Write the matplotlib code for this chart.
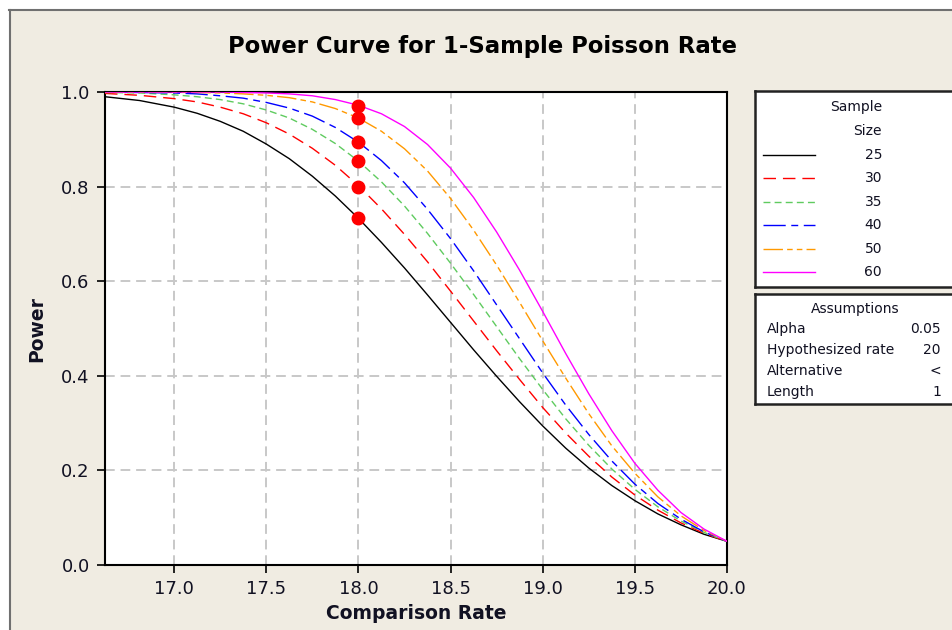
import matplotlib
matplotlib.use("Agg")
import matplotlib.pyplot as plt
from matplotlib.lines import Line2D
from matplotlib.patches import Rectangle

# values
comparison_rate = [16.625, 16.8125, 17.0, 17.125, 17.25, 17.375, 17.5, 17.625, 17.75,
                   17.875, 18.0, 18.125, 18.25, 18.375, 18.5, 18.625, 18.75, 18.875,
                   19.0, 19.125, 19.25, 19.375, 19.5, 19.625, 19.75, 19.875, 20.0]

sample_sizes = [25, 30, 35, 40, 50, 60]

power_25 = [0.990, 0.982, 0.968, 0.955, 0.938, 0.917, 0.890, 0.859, 0.822, 0.780, 0.733, 0.682, 0.628, 0.571,
            0.513, 0.455, 0.399, 0.345, 0.294, 0.247, 0.205, 0.168, 0.136, 0.108, 0.085, 0.065, 0.050]
power_30 = [0.997, 0.993, 0.986, 0.979, 0.968, 0.954, 0.935, 0.911, 0.881, 0.845, 0.802, 0.753, 0.699, 0.641,
            0.579, 0.516, 0.453, 0.392, 0.333, 0.279, 0.230, 0.186, 0.148, 0.116, 0.089, 0.067, 0.050]
power_35 = [0.999, 0.998, 0.994, 0.990, 0.984, 0.975, 0.962, 0.945, 0.921, 0.891, 0.854, 0.810, 0.759, 0.701,
            0.638, 0.572, 0.504, 0.436, 0.371, 0.309, 0.253, 0.203, 0.160, 0.123, 0.093, 0.069, 0.050]
power_40 = [1.000, 0.999, 0.998, 0.996, 0.992, 0.987, 0.978, 0.966, 0.949, 0.925, 0.894, 0.855, 0.808, 0.752,
            0.690, 0.622, 0.550, 0.478, 0.406, 0.338, 0.276, 0.220, 0.171, 0.130, 0.097, 0.070, 0.050]
power_50 = [1.000, 1.000, 1.000, 0.999, 0.998, 0.996, 0.993, 0.988, 0.979, 0.965, 0.945, 0.917, 0.880, 0.833,
            0.775, 0.708, 0.634, 0.555, 0.474, 0.395, 0.320, 0.252, 0.194, 0.144, 0.104, 0.073, 0.050]
power_60 = [1.000, 1.000, 1.000, 1.000, 1.000, 0.999, 0.998, 0.996, 0.992, 0.984, 0.972, 0.954, 0.927, 0.889,
            0.839, 0.777, 0.704, 0.623, 0.536, 0.447, 0.362, 0.284, 0.215, 0.158, 0.111, 0.076, 0.050]

# the highlighted points at comparison rate 18
dot_rate = [18.0, 18.0, 18.0, 18.0, 18.0, 18.0]
dot_power = [0.733, 0.800, 0.855, 0.895, 0.945, 0.971]

assumption_names = ["Alpha", "Hypothesized rate", "Alternative", "Length"]
assumption_values = ["0.05", "20", "<", "1"]

x_ticks = [17.0, 17.5, 18.0, 18.5, 19.0, 19.5, 20.0]
y_ticks = [0.0, 0.2, 0.4, 0.6, 0.8, 1.0]

curves = [power_25, power_30, power_35, power_40, power_50, power_60]
styles = [
    dict(color="black", linestyle="-"),
    dict(color="#FF0000", dashes=(9, 5)),
    dict(color="#5FCB5F", dashes=(5, 3)),
    dict(color="#0000FF", dashes=(16, 4, 5, 4)),
    dict(color="#FF9900", dashes=(14, 3, 4, 3, 4, 3)),
    dict(color="#FF00FF", linestyle="-"),
]

W, H = 952, 630
BG = "#F0ECE2"
TXT = "#111122"

plt.rcParams["font.family"] = ["DejaVu Sans"]

fig = plt.figure(figsize=(W / 100, H / 100), dpi=100)
fig.patch.set_facecolor("white")

# beige panel with the window frame on top and left
fig.patches.append(Rectangle((10 / W, 0), 1, (H - 10) / H, transform=fig.transFigure,
                             facecolor=BG, edgecolor="none", zorder=-10))
fig.lines.append(Line2D([9 / W, 1], [1 - 10 / H, 1 - 10 / H], transform=fig.transFigure,
                        color="#707070", lw=1.5))
fig.lines.append(Line2D([10 / W, 10 / W], [0, 1 - 10 / H], transform=fig.transFigure,
                        color="#707070", lw=1.5))

ax = fig.add_axes([105 / W, 1 - 565 / H, (727 - 105) / W, (565 - 92) / H])
ax.set_facecolor("white")

for n, p, st in zip(sample_sizes, curves, styles):
    ax.plot(comparison_rate, p, lw=1.0, label=str(n), zorder=3, **st)

ax.plot(dot_rate, dot_power, "o", color="#FF0000", markersize=9, zorder=5, clip_on=False)

ax.set_xlim(16.625, 20.0)
ax.set_ylim(0.0, 1.0)
ax.set_xticks(x_ticks)
ax.set_yticks(y_ticks)
ax.set_xticklabels([f"{v:.1f}" for v in x_ticks])
ax.set_yticklabels([f"{v:.1f}" for v in y_ticks])
ax.tick_params(direction="out", length=6, width=1.2, labelsize=13, pad=5,
               colors="black", labelcolor=TXT)
ax.grid(True, color="#C8C8C8", linewidth=1.4, linestyle=(0, (5, 3)), zorder=1)
ax.set_axisbelow(True)
for s in ax.spines.values():
    s.set_linewidth(1.5)
    s.set_color("black")

ax.set_xlabel("Comparison Rate", fontsize=13.5, fontweight="bold", color=TXT, labelpad=4)
ax.set_ylabel("Power", fontsize=13.5, fontweight="bold", color=TXT, labelpad=11)
fig.text(483 / W, 1 - 47 / H, "Power Curve for 1-Sample Poisson Rate", ha="center", va="center",
         fontsize=16.4, fontweight="bold", color="black")

# legend box (sample size), drawn in pixel coordinates
bx, by, bh = 755, 91, 196
lax = fig.add_axes([bx / W, 1 - (by + bh) / H, 0.3, bh / H])
lax.set_xlim(0, 0.3 * W)
lax.set_ylim(bh, 0)
lax.set_xticks([])
lax.set_yticks([])
for s in lax.spines.values():
    s.set_linewidth(1.8)
    s.set_color("#222222")
lax.text(127, 16, "Sample", ha="right", va="center", fontsize=10, color=TXT)
lax.text(127, 40, "Size", ha="right", va="center", fontsize=10, color=TXT)
for i, (n, st) in enumerate(zip(sample_sizes, styles)):
    yy = 64 + i * 23.4
    lax.plot([8, 60], [yy, yy], lw=1.0, **st)
    lax.text(127, yy, str(n), ha="right", va="center", fontsize=10, color=TXT)

# assumptions box
ay, ah = 294, 110
aax = fig.add_axes([bx / W, 1 - (ay + ah) / H, 0.3, ah / H])
aax.set_xlim(0, 0.3 * W)
aax.set_ylim(ah, 0)
aax.set_xticks([])
aax.set_yticks([])
for s in aax.spines.values():
    s.set_linewidth(1.8)
    s.set_color("#222222")
aax.text(100, 15, "Assumptions", ha="center", va="center", fontsize=10, color=TXT)
for i, (nm, val) in enumerate(zip(assumption_names, assumption_values)):
    yy = 35 + i * 21
    aax.text(12, yy, nm, ha="left", va="center", fontsize=10, color=TXT)
    aax.text(186, yy, val, ha="right", va="center", fontsize=10, color=TXT)

fig.savefig("out.png", dpi=100)
